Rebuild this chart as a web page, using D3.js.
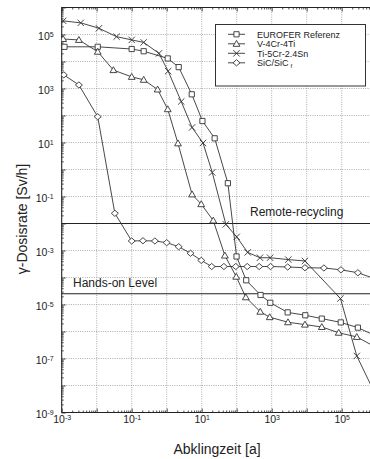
<!DOCTYPE html>
<html>
<head>
<meta charset="utf-8">
<script src="https://cdn.jsdelivr.net/npm/d3@7"></script>
<style>
  body { margin: 0; background: #fff; }
  text { font-family: "Liberation Sans", Arial, sans-serif; fill: #222; }
</style>
</head>
<body>
<svg id="chart" width="370" height="459"></svg>
<script>
// Decay time [a] and gamma dose rate [Sv/h] for each material
const euroferTime = [1.2e-3, 0.0107, 0.1, 0.22, 1.07, 2.2, 5.2, 10.5, 23.5, 56, 99, 187, 479, 912, 2860, 9120, 2.7e4, 9.4e4, 2.9e5, 1e6];
const euroferDose = [3.5e4, 3.5e4, 2.9e4, 2.4e4, 1.3e4, 6.2e3, 610, 62.5, 14.3, 0.31, 6e-4, 7.9e-5, 2.25e-5, 1.16e-5, 5.1e-6, 4e-6, 3.0e-6, 2.17e-6, 1.39e-6, 6.6e-7];

const vanTime = [1.1e-3, 3.1e-3, 0.0107, 0.03, 0.1, 0.22, 0.55, 1.07, 2.1, 5.3, 9.7, 21.4, 46, 97, 182, 472, 877, 2920, 8900, 2.7e4, 8.2e4, 2.7e5, 1e6];
const vanDose = [6.8e4, 6.3e4, 2.3e4, 4.8e3, 2.7e3, 2.1e3, 920, 171, 9.3, 0.12, 0.052, 0.0129, 6.5e-4, 1.07e-4, 1.85e-5, 5.4e-6, 3.4e-6, 2.2e-6, 1.8e-6, 1.47e-6, 9.0e-7, 6.3e-7, 2.5e-7];

const tiTime = [1.1e-3, 3.5e-3, 0.0116, 0.037, 0.1, 0.22, 0.6, 1.1, 2.6, 5.3, 10.9, 20, 49, 100, 206, 463, 900, 2980, 8900, 9.2e4, 2.7e5, 1e6];
const tiDose = [3.2e5, 2.7e5, 1.7e5, 8.3e4, 6.3e4, 5.1e4, 2.0e4, 4.4e3, 330, 36, 9.6, 0.78, 0.0093, 0.0032, 8.5e-4, 5.4e-4, 5.4e-4, 4.6e-4, 4.1e-4, 1.67e-5, 1.24e-7, 3.7e-9];

const sicTime = [1.15e-3, 3.1e-3, 0.0107, 0.033, 0.1, 0.21, 0.46, 1.0, 2.2, 4.8, 9.7, 19.3, 43, 94, 200, 440, 925, 2860, 8900, 3.1e4, 9.5e4, 2.9e5, 1e6];
const sicDose = [3.2e3, 1.35e3, 90, 0.0239, 2.25e-3, 2.3e-3, 2.25e-3, 1.95e-3, 1.38e-3, 7.9e-4, 4.3e-4, 2.55e-4, 2.55e-4, 2.55e-4, 2.55e-4, 2.55e-4, 2.55e-4, 2.45e-4, 2.3e-4, 2.25e-4, 1.93e-4, 1.5e-4, 8.5e-5];

const seriesNames = ["EUROFER Referenz", "V-4Cr-4Ti", "Ti-5Cr-2.4Sn", "SiC/SiC"];
const seriesMarkers = ["square", "triangle", "cross", "diamond"];

// Dose rate limits [Sv/h]
const limitNames = ["Remote-recycling", "Hands-on Level"];
const limitValues = [1e-2, 2.5e-5];

// Tick labels (powers of ten)
const xLabelExponents = [-3, -1, 1, 3, 5];
const yLabelExponents = [-9, -7, -5, -3, -1, 1, 3, 5];

const series = [
  { name: seriesNames[0], marker: seriesMarkers[0], time: euroferTime, dose: euroferDose },
  { name: seriesNames[1], marker: seriesMarkers[1], time: vanTime, dose: vanDose },
  { name: seriesNames[2], marker: seriesMarkers[2], time: tiTime, dose: tiDose },
  { name: seriesNames[3], marker: seriesMarkers[3], time: sicTime, dose: sicDose }
];

const svg = d3.select("#chart");
const plot = { left: 61.7, right: 376.7, top: 7.5, bottom: 412.5 };

const x = d3.scaleLog().domain([1e-3, 1e6]).range([plot.left, plot.right]);
const y = d3.scaleLog().domain([1e-9, 1e6]).range([plot.bottom, plot.top]);

const xDecades = d3.range(-3, 7).map(e => Math.pow(10, e));
const yDecades = d3.range(-9, 7).map(e => Math.pow(10, e));
function minorTicks(decades) {
  const out = [];
  decades.slice(0, -1).forEach(d => { for (let k = 2; k < 10; k++) out.push(d * k); });
  return out;
}

svg.append("defs").append("clipPath").attr("id", "plotClip")
  .append("rect")
  .attr("x", plot.left).attr("y", plot.top)
  .attr("width", plot.right - plot.left).attr("height", plot.bottom - plot.top);

// Dotted grid at each decade
const grid = svg.append("g").attr("stroke", "#8a8a8a").attr("stroke-width", 0.7)
  .attr("stroke-dasharray", "1,1.3");
grid.selectAll("line.gx").data(xDecades.slice(1, -1)).join("line")
  .attr("x1", d => x(d)).attr("x2", d => x(d))
  .attr("y1", plot.top).attr("y2", plot.bottom);
grid.selectAll("line.gy").data(yDecades.slice(1, -1)).join("line")
  .attr("x1", plot.left).attr("x2", plot.right)
  .attr("y1", d => y(d)).attr("y2", d => y(d));

// Axes with inward ticks
function styleAxis(g) {
  g.select(".domain").remove();
  g.selectAll(".tick line").attr("stroke", "#222").attr("stroke-width", 0.8);
}
function powerLabel(sel, exps) {
  sel.selectAll(".tick text").each(function(d) {
    const e = Math.round(Math.log10(d));
    const t = d3.select(this);
    t.text("");
    if (!exps.includes(e)) return;
    t.append("tspan").text("10");
    t.append("tspan").attr("dy", "-0.45em").attr("font-size", "7px").text(String(e));
  });
}

const xAxisG = svg.append("g").attr("transform", `translate(0,${plot.bottom})`)
  .call(d3.axisBottom(x).tickValues(xDecades).tickSize(-4).tickPadding(3).tickFormat(d => d))
  .call(styleAxis);
xAxisG.selectAll(".tick text").attr("font-size", "10.5px").attr("fill", "#222");
powerLabel(xAxisG, xLabelExponents);
svg.append("g").attr("transform", `translate(0,${plot.bottom})`)
  .call(d3.axisBottom(x).tickValues(minorTicks(xDecades)).tickSize(-2).tickFormat(""))
  .call(styleAxis);
svg.append("g").attr("transform", `translate(0,${plot.top})`)
  .call(d3.axisTop(x).tickValues(xDecades).tickSize(-4).tickFormat(""))
  .call(styleAxis);
svg.append("g").attr("transform", `translate(0,${plot.top})`)
  .call(d3.axisTop(x).tickValues(minorTicks(xDecades)).tickSize(-2).tickFormat(""))
  .call(styleAxis);

const yAxisG = svg.append("g").attr("transform", `translate(${plot.left},0)`)
  .call(d3.axisLeft(y).tickValues(yDecades).tickSize(-4).tickPadding(8).tickFormat(d => d))
  .call(styleAxis);
yAxisG.selectAll(".tick text").attr("font-size", "10.5px").attr("fill", "#222").attr("dy", "0.45em");
powerLabel(yAxisG, yLabelExponents);
svg.append("g").attr("transform", `translate(${plot.left},0)`)
  .call(d3.axisLeft(y).tickValues(minorTicks(yDecades)).tickSize(-2).tickFormat(""))
  .call(styleAxis);

// Frame
svg.append("path")
  .attr("d", `M${plot.right},${plot.top}H${plot.left}V${plot.bottom}H${plot.right}`)
  .attr("fill", "none").attr("stroke", "#222").attr("stroke-width", 1.1);

// Dose rate limit lines
const limits = svg.append("g");
limits.selectAll("line").data(limitValues).join("line")
  .attr("x1", plot.left).attr("x2", plot.right)
  .attr("y1", d => y(d)).attr("y2", d => y(d))
  .attr("stroke", "#222").attr("stroke-width", 1.1);
limits.append("text").attr("x", 250).attr("y", y(limitValues[0]) - 8)
  .attr("font-size", "12px").text(limitNames[0]);
limits.append("text").attr("x", 73).attr("y", y(limitValues[1]) - 7)
  .attr("font-size", "12px").text(limitNames[1]);

// Marker shapes
const markerTypes = {
  square: { draw(c) { const h = 2.6; c.moveTo(-h, -h); c.lineTo(h, -h); c.lineTo(h, h); c.lineTo(-h, h); c.closePath(); } },
  triangle: { draw(c) { c.moveTo(0, -3.4); c.lineTo(3.4, 2.5); c.lineTo(-3.4, 2.5); c.closePath(); } },
  cross: { draw(c) { const h = 3.2; c.moveTo(-h, -h); c.lineTo(h, h); c.moveTo(h, -h); c.lineTo(-h, h); } },
  diamond: { draw(c) { c.moveTo(0, -3.1); c.lineTo(3.5, 0); c.lineTo(0, 3.1); c.lineTo(-3.5, 0); c.closePath(); } }
};
const symbolPath = name => d3.symbol().type(markerTypes[name])();

const line = d3.line().x(d => x(d[0])).y(d => y(d[1]));
const dataG = svg.append("g").attr("clip-path", "url(#plotClip)");

series.forEach(s => {
  s.points = s.time.map((t, i) => [t, s.dose[i]]);
});
dataG.selectAll("path.series").data(series).join("path")
  .attr("class", "series")
  .attr("d", s => line(s.points))
  .attr("fill", "none").attr("stroke", "#333").attr("stroke-width", 0.9);

series.forEach(s => {
  dataG.append("g").selectAll("path").data(s.points).join("path")
    .attr("transform", d => `translate(${x(d[0])},${y(d[1])})`)
    .attr("d", symbolPath(s.marker))
    .attr("fill", "#fff").attr("stroke", "#333").attr("stroke-width", 0.9);
});

// Legend
const legend = svg.append("g");
legend.append("rect").attr("x", 215.5).attr("y", 24.5).attr("width", 150).attr("height", 61.5)
  .attr("fill", "#fff").attr("stroke", "#333").attr("stroke-width", 1);
const rows = legend.selectAll("g.row").data(series).join("g")
  .attr("transform", (d, i) => `translate(0,${34.3 + i * 9.5})`);
rows.append("line").attr("x1", 228).attr("x2", 245).attr("y1", 0).attr("y2", 0)
  .attr("stroke", "#333").attr("stroke-width", 0.9);
rows.append("path").attr("transform", "translate(236.5,0)")
  .attr("d", d => symbolPath(d.marker))
  .attr("fill", "#fff").attr("stroke", "#333").attr("stroke-width", 0.9);
rows.append("text").attr("x", 257).attr("y", 3.3).attr("font-size", "9px")
  .each(function(d) {
    const t = d3.select(this);
    t.append("tspan").text(d.name);
    if (d.marker === "diamond") {
      t.append("tspan").attr("dx", 2).attr("dy", 2).attr("font-size", "6px").text("f");
    }
  });

// Axis titles
svg.append("text").attr("x", 217).attr("y", 454).attr("text-anchor", "middle")
  .attr("font-size", "14px").text("Abklingzeit [a]");
svg.append("text").attr("transform", "translate(27,219) rotate(-90)")
  .attr("text-anchor", "middle").attr("font-size", "14px").text("γ-Dosisrate [Sv/h]");
</script>
</body>
</html>
